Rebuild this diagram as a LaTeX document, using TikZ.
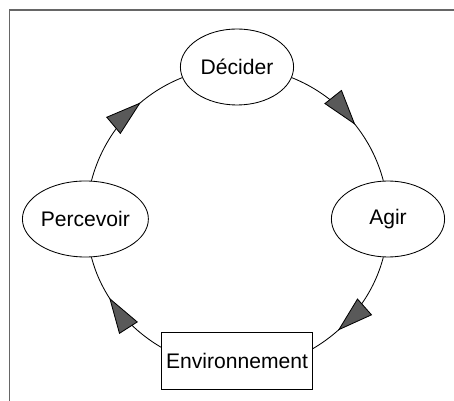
\documentclass[tikz,border=0pt]{standalone}
\usepackage{fontspec}
\setmainfont{Liberation Sans}
\usepackage{tikz}
\usetikzlibrary{arrows.meta,shapes.geometric,decorations.markings}

\begin{document}
\begin{tikzpicture}[
    font=\fontsize{15}{18}\selectfont,
    state/.style={ellipse, draw, line width=0.6pt, minimum width=2.83cm, minimum height=1.9cm, inner sep=0pt},
    world/.style={rectangle, draw, line width=0.6pt, minimum width=3.78cm, minimum height=1.43cm, inner sep=0pt},
    flow/.style={line width=0.6pt, postaction={decorate},
        decoration={markings, mark=at position #1 with {\arrow{Triangle[length=9mm, width=5.5mm, fill=black!65]}}}}
]
\useasboundingbox (-5.925,-4.55) rectangle (5.425,5.475);

% === FRAME ===
\draw[black!60, line width=0.9pt] (-5.69,-4.55) |- (5.425,5.225);

% === CYCLE NODES ===
\node[state] (dec) at (0, 3.8) {Décider};
\node[state] (agir) at (3.775, 0) {Agir};
\node[state] (perc) at (-3.79, 0) {Percevoir};
\node[world] (env) at (0, -3.54) {Environnement};

% === ARCS (clockwise) ===
\draw[flow=0.56] (dec.-11) to[out=-21.7, in=104.6, looseness=0.9] (agir.97.5);
\draw[flow=0.74] (agir.-97.5) to[out=-104.6, in=30.4, looseness=0.885] (env.9.4);
\draw[flow=0.62] (env.170.6) to[out=149.6, in=-75.4, looseness=0.885] (perc.-81.5);
\draw[flow=0.66] (perc.81.5) to[out=75.4, in=201.6, looseness=0.9] (dec.191);

\end{tikzpicture}
\end{document}
